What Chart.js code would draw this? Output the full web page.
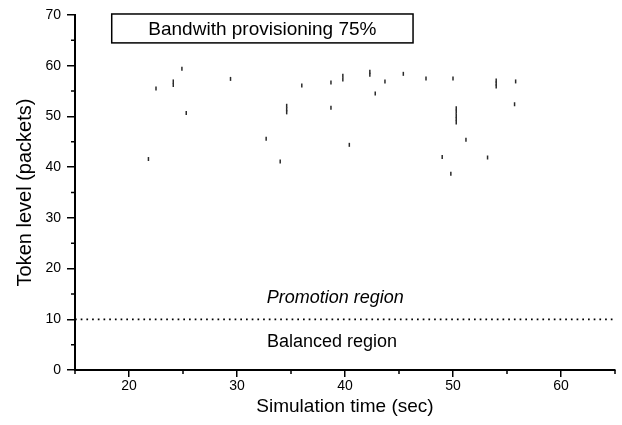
<!DOCTYPE html>
<html>
<head>
<meta charset="utf-8">
<script src="https://cdn.jsdelivr.net/npm/chart.js@4.4.1/dist/chart.umd.min.js"></script>
<style>
  body { margin: 0; background: #fff; }
  #wrap { width: 622px; height: 425px; }
</style>
</head>
<body>
<div id="wrap"><canvas id="tokenChart"></canvas></div>
<script>
// token level samples (time in sec, level in packets)
const simTime = [21.8, 22.5, 24.1, 24.1, 24.9, 25.3, 29.4, 32.7, 34.0, 34.6, 34.6, 34.6,
  36.0, 38.7, 38.7, 39.8, 39.8, 40.4, 42.3, 42.3, 42.8, 43.7, 45.4, 47.5, 49.0, 49.8,
  50.0, 50.3, 50.3, 50.3, 50.3, 50.3, 51.2, 53.2, 54.0, 54.0, 54.0, 55.7, 55.8];
const tokenLevel = [41.6, 55.5, 56.9, 56.2, 59.4, 50.7, 57.4, 45.6, 41.1, 52.1, 51.4, 50.8,
  56.1, 51.7, 56.7, 58.0, 57.3, 44.4, 58.8, 58.2, 54.5, 56.9, 58.4, 57.5, 42.0, 38.7,
  57.5, 51.6, 50.9, 50.2, 49.5, 48.8, 45.4, 41.9, 57.1, 56.5, 55.9, 52.4, 56.9];

// boundary between the balanced and promotion regions
const regionLimit = 10;

const xTicks = [20, 30, 40, 50, 60];
const xMinorTicks = [15, 25, 35, 45, 55, 65];
const yTicks = [0, 10, 20, 30, 40, 50, 60, 70];
const yMinorTicks = [5, 15, 25, 35, 45, 55, 65];

const boxTitle = 'Bandwith provisioning 75%';
const upperRegion = 'Promotion region';
const lowerRegion = 'Balanced region';

Chart.defaults.font.family = '"Liberation Sans", Arial, sans-serif';
Chart.defaults.color = '#000';

const points = simTime.map((t, i) => ({ x: t, y: tokenLevel[i] }));

// minor ticks, the caption box and the region names
const decorations = {
  id: 'decorations',
  afterDraw(chart) {
    const { ctx, chartArea, scales: { x, y } } = chart;
    ctx.save();
    ctx.strokeStyle = '#000';
    ctx.lineWidth = 1.5;
    ctx.beginPath();
    xMinorTicks.forEach(v => {
      const px = x.getPixelForValue(v);
      ctx.moveTo(px, chartArea.bottom);
      ctx.lineTo(px, chartArea.bottom + 4);
    });
    yMinorTicks.forEach(v => {
      const py = y.getPixelForValue(v);
      ctx.moveTo(chartArea.left, py);
      ctx.lineTo(chartArea.left - 4, py);
    });
    ctx.stroke();

    const bx1 = x.getPixelForValue(18.4), bx2 = x.getPixelForValue(46.3);
    const by1 = y.getPixelForValue(70.2), by2 = y.getPixelForValue(64.5);
    ctx.fillStyle = '#fff';
    ctx.fillRect(bx1, by1, bx2 - bx1, by2 - by1);
    ctx.strokeRect(bx1, by1, bx2 - bx1, by2 - by1);

    ctx.fillStyle = '#000';
    ctx.textAlign = 'center';
    ctx.textBaseline = 'middle';
    ctx.font = '19px "Liberation Sans", Arial, sans-serif';
    ctx.fillText(boxTitle, (bx1 + bx2) / 2, (by1 + by2) / 2 + 1);

    ctx.font = 'italic 18px "Liberation Sans", Arial, sans-serif';
    ctx.fillText(upperRegion, x.getPixelForValue(39.1), y.getPixelForValue(14.2));
    ctx.font = '18px "Liberation Sans", Arial, sans-serif';
    ctx.fillText(lowerRegion, x.getPixelForValue(38.8), y.getPixelForValue(5.5));
    ctx.restore();
  }
};

new Chart(document.getElementById('tokenChart'), {
  type: 'scatter',
  data: {
    datasets: [{
      label: 'Token level',
      data: points,
      pointStyle: 'line',
      rotation: 90,
      radius: 2,
      borderColor: '#2a2a2a',
      borderWidth: 1.5,
      showLine: false
    }, {
      label: 'Region limit',
      type: 'line',
      data: [{ x: 15, y: regionLimit }, { x: 65, y: regionLimit }],
      borderColor: '#000',
      borderWidth: 1.7,
      borderDash: [1.7, 4],
      pointRadius: 0,
      fill: false
    }]
  },
  options: {
    responsive: true,
    maintainAspectRatio: false,
    animation: false,
    layout: { padding: { top: 15, right: 7, left: 0, bottom: 0 } },
    plugins: {
      legend: { display: false },
      tooltip: { enabled: false }
    },
    scales: {
      x: {
        type: 'linear',
        min: 15,
        max: 65,
        afterFit: s => { s.height = 55; },
        afterBuildTicks: s => { s.ticks = xTicks.map(v => ({ value: v })); },
        grid: { display: true, drawOnChartArea: false, drawTicks: true, tickLength: 7, color: '#000', lineWidth: 1.5 },
        border: { display: true, color: '#000', width: 2 },
        ticks: { font: { size: 14 }, padding: 1, maxRotation: 0 },
        title: { display: true, text: 'Simulation time (sec)', font: { size: 19 }, padding: { top: 0, bottom: 7 } }
      },
      y: {
        min: 0,
        max: 70,
        afterFit: s => { s.width = 75; },
        afterBuildTicks: s => { s.ticks = yTicks.map(v => ({ value: v })); },
        grid: { display: true, drawOnChartArea: false, drawTicks: true, tickLength: 8, color: '#000', lineWidth: 1.5 },
        border: { display: true, color: '#000', width: 2 },
        ticks: { font: { size: 14 }, padding: 6 },
        title: { display: true, text: 'Token level (packets)', font: { size: 20 }, padding: { top: 13, bottom: 0 } }
      }
    }
  },
  plugins: [decorations]
});
</script>
</body>
</html>
